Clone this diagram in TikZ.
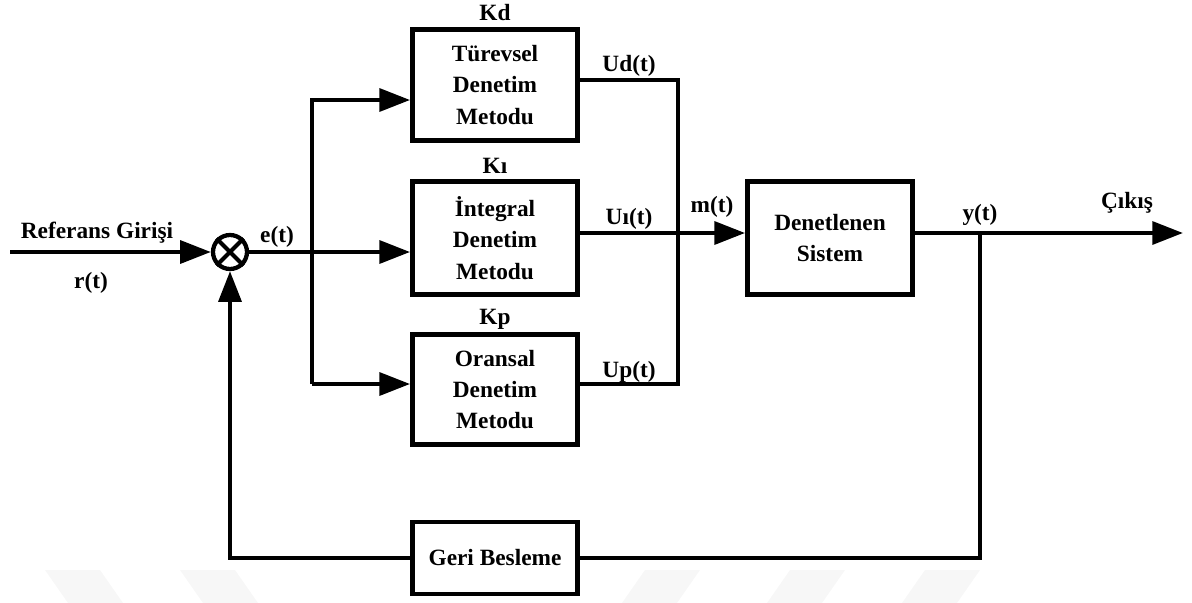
\documentclass[tikz,border=0pt]{standalone}
\usepackage{fontspec}
\setmainfont{Liberation Serif}
\usetikzlibrary{arrows.meta}
\begin{document}
\begin{tikzpicture}[x=0.75pt,y=-0.75pt,
  every node/.style={font=\fontsize{17.5}{23.5}\selectfont\bfseries},
  block/.style={draw,line width=3.6pt,inner sep=0pt,minimum width=123.75pt,align=center},
  wire/.style={line width=3.2pt},
  arr/.style={wire,-{Triangle[length=23pt,width=17pt]}},
  lbl/.style={inner sep=0pt},
  stripe/.style={fill=black!3,draw=none}
]
\useasboundingbox (0,0) rectangle (1192,603);

% faint background stripes along the bottom edge
\fill[stripe] (45,570) -- (100,570) -- (123,603) -- (68,603) -- cycle;
\fill[stripe] (180,570) -- (235,570) -- (258,603) -- (203,603) -- cycle;
\fill[stripe] (645,570) -- (700,570) -- (677,603) -- (622,603) -- cycle;
\fill[stripe] (790,570) -- (845,570) -- (822,603) -- (767,603) -- cycle;
\fill[stripe] (925,570) -- (980,570) -- (957,603) -- (902,603) -- cycle;

% controller blocks
\node[block,minimum height=83.25pt] (kd) at (495,85) {Türevsel\\Denetim\\Metodu};
\node[block,minimum height=84.75pt] (ki) at (495,238) {İntegral\\Denetim\\Metodu};
\node[block,minimum height=82.5pt] (kp) at (495,389.5) {Oransal\\Denetim\\Metodu};
\node[block,minimum height=84.75pt] (sys) at (830,238) {Denetlenen\\Sistem};
\node[block,minimum height=54pt] (fb) at (495,558) {Geri Besleme};

% summing junction
\node[draw,circle,line width=3.2pt,minimum size=25.5pt,inner sep=0pt] (sum) at (230,252) {};
\draw[line width=3pt] (sum.north east) -- (sum.south west)
                      (sum.north west) -- (sum.south east);

% key points of the wiring
\coordinate (rin) at (10,252);
\coordinate (btop) at (312,100);
\coordinate (bbot) at (312,384);
\coordinate (jt) at (678,80);
\coordinate (jb) at (678,384);
\coordinate (mid) at (678,233);
\coordinate (tap) at (980,233);
\coordinate (out) at (1183,233);

% input and error signal
\draw[arr] (rin) -- (sum.west);
\draw[arr] (sum.east) -- (sum -| ki.west);
\draw[arr] (bbot) |- (kd.west |- btop);
\draw[arr] (bbot) -- (bbot -| kp.west);

% controller outputs merged into m(t)
\draw[wire] (kd.east |- jt) -- (jt) -- (jb) -- (jb -| kp.east);
\draw[arr] (ki.east |- mid) -- (sys.west |- mid);

% plant output and feedback path
\draw[arr] (sys.east |- mid) -- (out);
\draw[wire] (tap) |- (fb.east);
\draw[arr] (fb.west) -| (sum.south);

% labels
\node[lbl] (lref) at (97,233) {Referans Girişi};
\node[lbl] (lr) at (91,283) {r(t)};
\node[lbl] (le) at (277,237) {e(t)};
\node[lbl] (lkd) at (495,13) {Kd};
\node[lbl] (lki) at (495,166) {Kı};
\node[lbl] (lkp) at (495,319) {Kp};
\node[lbl] (lud) at (629,66) {Ud(t)};
\node[lbl] (lui) at (629,219) {Uı(t)};
\node[lbl] (lup) at (629,372) {Up(t)};
\node[lbl] (lm) at (712,207) {m(t)};
\node[lbl] (ly) at (980,215) {y(t)};
\node[lbl] (lout) at (1127,203) {Çıkış};
\end{tikzpicture}
\end{document}
